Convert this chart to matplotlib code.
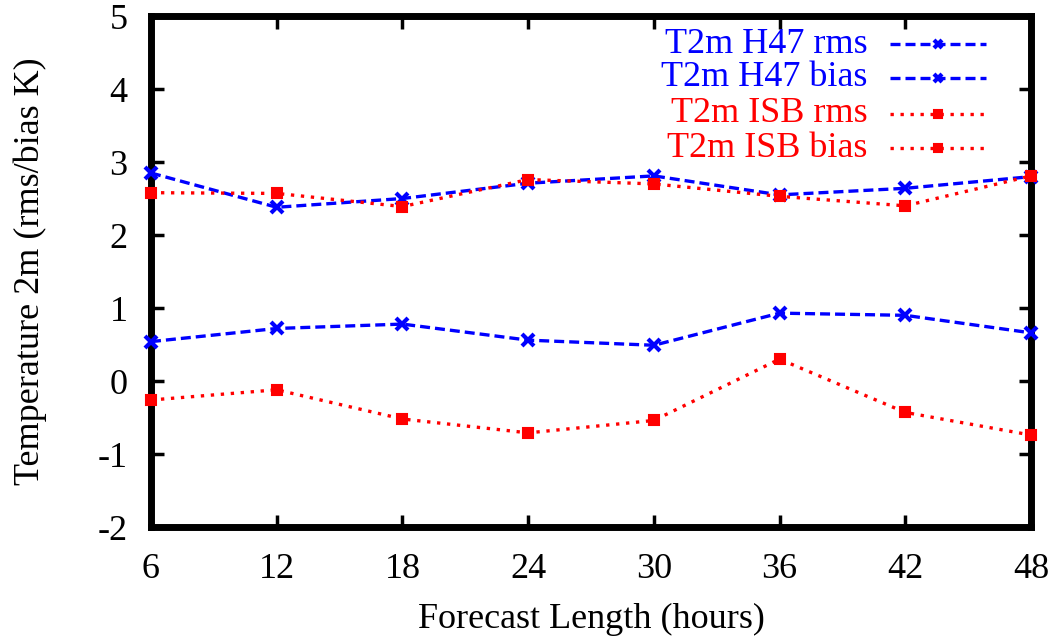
import matplotlib
matplotlib.use("Agg")
import matplotlib.pyplot as plt

plt.rcParams["font.family"] = ["Liberation Serif", "DejaVu Serif"]
plt.rcParams["axes.unicode_minus"] = False

hours = [6, 12, 18, 24, 30, 36, 42, 48]
h47_rms = [2.85, 2.38, 2.50, 2.71, 2.81, 2.55, 2.64, 2.80]
h47_bias = [0.54, 0.72, 0.78, 0.56, 0.49, 0.93, 0.90, 0.66]
isb_rms = [2.58, 2.57, 2.39, 2.76, 2.70, 2.53, 2.40, 2.81]
isb_bias = [-0.26, -0.12, -0.52, -0.71, -0.54, 0.30, -0.43, -0.74]

labels = ["T2m H47 rms", "T2m H47 bias", "T2m ISB rms", "T2m ISB bias"]
series = [h47_rms, h47_bias, isb_rms, isb_bias]
colors = ["#0000ff", "#0000ff", "#ff0000", "#ff0000"]
styles = [
    dict(linestyle=(0, (3, 1.5)), marker="x", markersize=8, markeredgewidth=3),
    dict(linestyle=(0, (3, 1.5)), marker="x", markersize=8, markeredgewidth=3),
    dict(linestyle=(0, (1, 2)), marker="s", markersize=7, markeredgewidth=1.5),
    dict(linestyle=(0, (1, 2)), marker="s", markersize=7, markeredgewidth=1.5),
]

fs = 26

fig = plt.figure(figsize=(10.5, 6.41), dpi=100)
ax = fig.add_axes([0.1438, 0.1778, 0.8381, 0.7972])

for vals, col, st in zip(series, colors, styles):
    ax.plot(hours, vals, color=col, linewidth=2.4, **st, clip_on=False, zorder=3)

# gnuplot-style key: right-aligned text, sample line to the right
key_y = [0.945, 0.879, 0.809, 0.741]
for lab, col, st, ky in zip(labels, colors, styles, key_y):
    ax.text(0.814, ky, lab, color=col, fontsize=fs, ha="right", va="center",
            transform=ax.transAxes)
    ax.plot([0.840, 0.949], [ky, ky], color=col, linewidth=2.4,
            linestyle=st["linestyle"], transform=ax.transAxes)
    ax.plot([0.8945], [ky], color=col, marker=st["marker"],
            markersize=st["markersize"] * 0.8, markeredgewidth=st["markeredgewidth"],
            transform=ax.transAxes)

ax.set_xlim(6, 48)
ax.set_ylim(-2, 5)
ax.set_xticks(hours)
ax.set_yticks(range(-2, 6))
ax.tick_params(direction="in", length=9, width=2.5, labelsize=fs,
               top=True, right=True)
ax.tick_params(axis="y", pad=17)
ax.tick_params(axis="x", pad=19)
for sp in ax.spines.values():
    sp.set_linewidth(5)

ax.set_xlabel("Forecast Length (hours)", fontsize=fs, labelpad=12)
ax.set_ylabel("Temperature 2m (rms/bias K)", fontsize=fs, labelpad=36)

fig.savefig("out.png", dpi=100)
